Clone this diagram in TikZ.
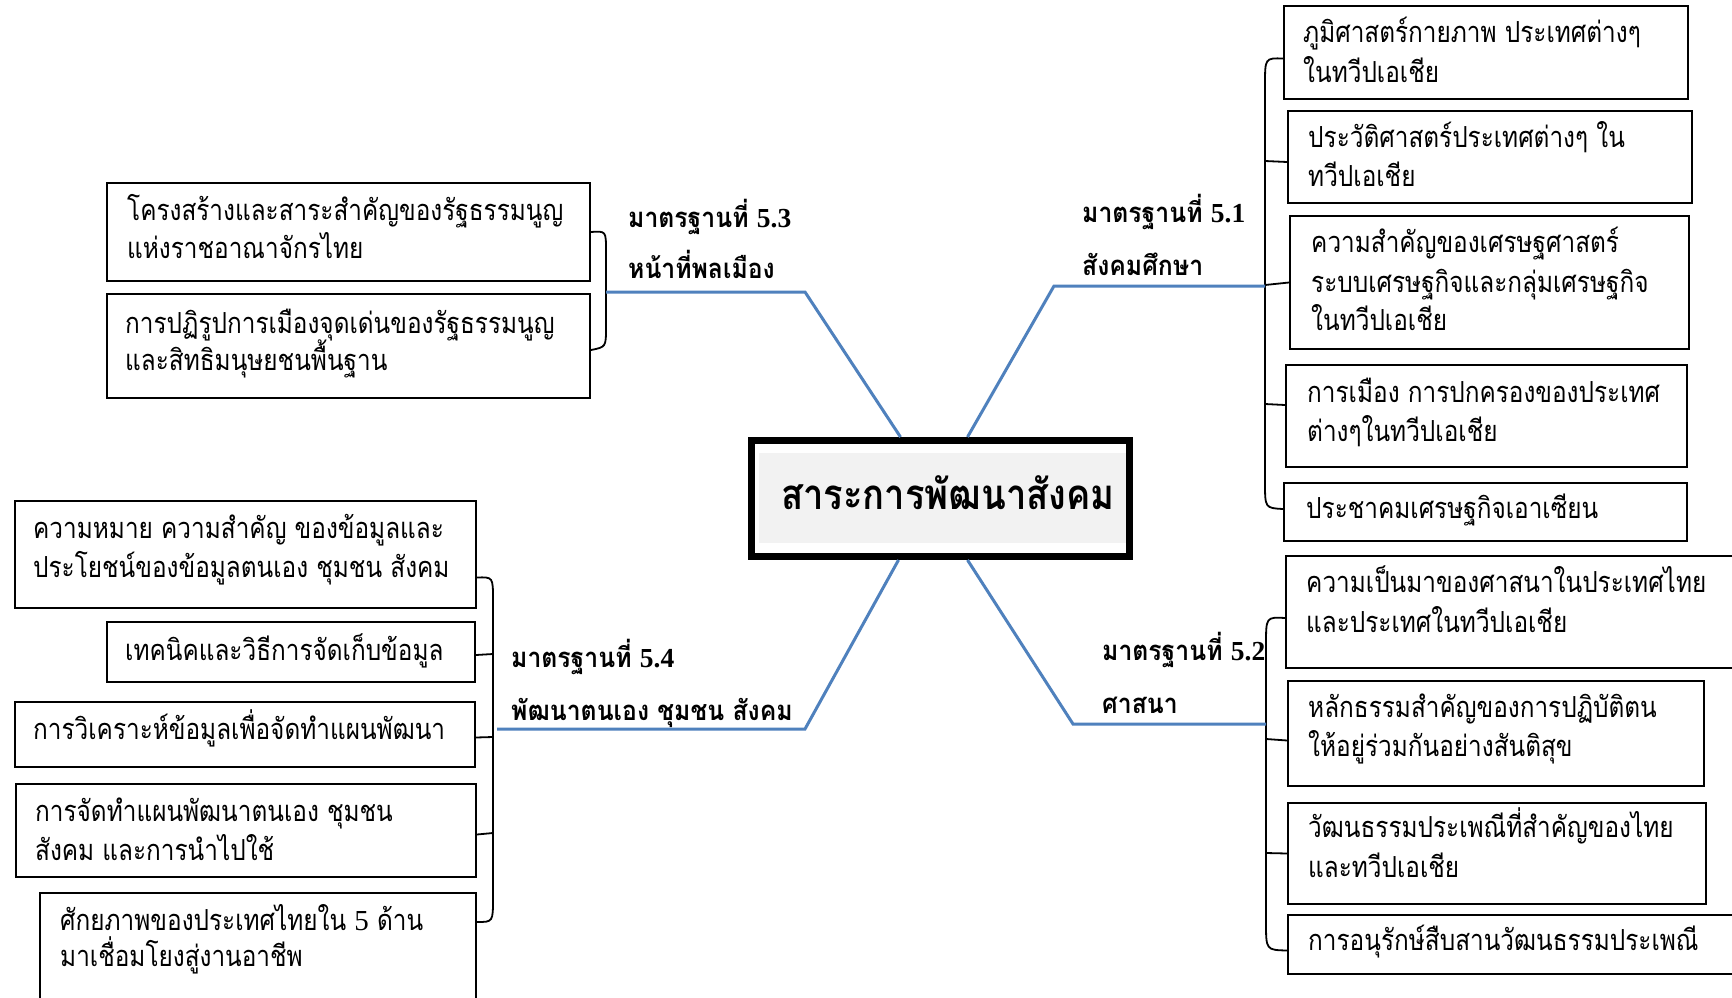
\documentclass[tikz,border=0pt]{standalone}
\usepackage{fontspec}
\newfontfamily\thaiR[Script=Thai,FakeStretch=0.84]{Loma}
\newfontfamily\thaiB[Script=Thai,FakeStretch=0.9]{Loma}
\newfontfamily\thaiC[Script=Thai,FakeStretch=0.865]{Loma}
\newfontfamily\timesf{Liberation Serif}
\usetikzlibrary{calc}
\definecolor{bluel}{RGB}{79,129,189}
\definecolor{grayf}{RGB}{242,242,242}
\tikzset{
  boxst/.style={draw=black, line width=2pt, anchor=north west, inner sep=0pt, fill=white},
  txt/.style={font=\thaiR\fontsize{29}{34}\selectfont, anchor=base west, inner sep=0pt},
  lab/.style={font=\thaiB\bfseries\fontsize{27.5}{32}\selectfont, anchor=base west, inner sep=0pt},
  br/.style={draw=black, line width=1.8pt},
  blu/.style={draw=bluel, line width=3pt, line join=miter},
}
\newcommand\mybox[5]{\node[boxst, minimum width={#4pt-#2pt}, minimum height={#5pt-#3pt}] (#1) at (#2,#3) {};}
\newcommand\tl[4]{\node[txt] (#1) at (#2,#3) {#4};}
\newcommand\lb[4]{\node[lab] (#1) at (#2,#3) {#4};}
\begin{document}
\begin{tikzpicture}[x=1pt,y=-1pt]
\useasboundingbox (0,0) rectangle (1732,998);
\clip (0,0) rectangle (1732,998);
\fill[white] (0,0) rectangle (1732,998);

% ---------- center node
\node[draw=black, line width=7pt, minimum width=378pt, minimum height=116pt, inner sep=0pt] (c) at (940.5,498.5) {};
\fill[grayf] (759,453) rectangle (1126,543);
\node[font=\thaiC\bfseries\fontsize{42}{48}\selectfont, anchor=base west, inner sep=0pt] (ct) at (781,509) {สาระการพัฒนาสังคม};

% ---------- boxes
\mybox{A1}{106}{182}{589}{280}
\mybox{A2}{106}{293}{589}{397}
\mybox{B1}{1283}{5}{1687}{98}
\mybox{B2}{1287}{110}{1691}{202}
\mybox{B3}{1289}{215}{1688}{348}
\mybox{B4}{1285}{364}{1686}{466}
\mybox{B5}{1283}{482}{1686}{540}
\mybox{C1}{1285}{555}{1745}{667}
\mybox{C2}{1287}{680}{1703}{785}
\mybox{C3}{1287}{802}{1705}{903}
\mybox{C4}{1287}{914}{1745}{973}
\mybox{D1}{14}{500}{475}{607}
\mybox{D2}{106}{621}{474}{681}
\mybox{D3}{14}{701}{474}{766}
\mybox{D4}{15}{783}{475}{876}
\mybox{D5}{39}{892}{475}{1010}

% ---------- box texts
\tl{a11}{127}{220}{โครงสร้างและสาระสำคัญของรัฐธรรมนูญ}
\tl{a12}{127}{258}{แห่งราชอาณาจักรไทย}
\tl{a21}{125}{333}{การปฏิรูปการเมืองจุดเด่นของรัฐธรรมนูญ}
\tl{a22}{125}{370}{และสิทธิมนุษยชนพื้นฐาน}
\tl{b11}{1303}{43}{ภูมิศาสตร์กายภาพ ประเทศต่างๆ}
\tl{b12}{1303}{82}{ในทวีปเอเชีย}
\tl{b21}{1308}{147}{ประวัติศาสตร์ประเทศต่างๆ ใน}
\tl{b22}{1308}{186}{ทวีปเอเชีย}
\tl{b31}{1311}{252}{ความสำคัญของเศรษฐศาสตร์}
\tl{b32}{1311}{292}{ระบบเศรษฐกิจและกลุ่มเศรษฐกิจ}
\tl{b33}{1311}{330}{ในทวีปเอเชีย}
\tl{b41}{1307}{402}{การเมือง การปกครองของประเทศ}
\tl{b42}{1307}{441}{ต่างๆในทวีปเอเชีย}
\tl{b51}{1306}{518}{ประชาคมเศรษฐกิจเอาเซียน}
\tl{c11}{1306}{592}{ความเป็นมาของศาสนาในประเทศไทย}
\tl{c12}{1306}{632}{และประเทศในทวีปเอเชีย}
\tl{c21}{1308}{717}{หลักธรรมสำคัญของการปฏิบัติตน}
\tl{c22}{1308}{756}{ให้อยู่ร่วมกันอย่างสันติสุข}
\tl{c31}{1308}{837}{วัฒนธรรมประเพณีที่สำคัญของไทย}
\tl{c32}{1308}{877}{และทวีปเอเชีย}
\tl{c41}{1308}{950}{การอนุรักษ์สืบสานวัฒนธรรมประเพณี}
\tl{d11}{33}{538}{ความหมาย ความสำคัญ ของข้อมูลและ}
\tl{d12}{33}{577}{ประโยชน์ของข้อมูลตนเอง ชุมชน สังคม}
\tl{d21}{125}{660}{เทคนิคและวิธีการจัดเก็บข้อมูล}
\tl{d31}{33}{739}{การวิเคราะห์ข้อมูลเพื่อจัดทำแผนพัฒนา}
\tl{d41}{35}{821}{การจัดทำแผนพัฒนาตนเอง ชุมชน}
\tl{d42}{35}{860}{สังคม และการนำไปใช้}
\tl{d51}{60}{930}{ศักยภาพของประเทศไทยใน {\timesf 5} ด้าน}
\tl{d52}{60}{966}{มาเชื่อมโยงสู่งานอาชีพ}

% ---------- labels
\lb{l31}{628}{227}{มาตรฐานที่ {\timesf 5.3}}
\lb{l32}{628}{278}{หน้าที่พลเมือง}
\lb{l11}{1082}{222}{มาตรฐานที่ {\timesf 5.1}}
\lb{l12}{1082}{275}{สังคมศึกษา}
\lb{l21}{1102}{660}{มาตรฐานที่ {\timesf 5.2}}
\lb{l22}{1102}{713}{ศาสนา}
\lb{l41}{511}{667}{มาตรฐานที่ {\timesf 5.4}}
\lb{l42}{511}{720}{พัฒนาตนเอง ชุมชน สังคม}

% ---------- brackets
% 5.3
\draw[br] (A1.east) .. controls (606,231) .. (606,251) -- (606,327) .. controls (606,347) .. ([yshift=-4pt]A2.east);
% 5.1
\draw[br] ([yshift=-6pt]B1.west) .. controls (1265,58) .. (1265,85) -- (1265,482) .. controls (1265,508) .. ([yshift=3pt]B5.west);
\draw[br] ([yshift=-5pt]B2.west) -- (1265,161);
\draw[br] (B3.west) -- (1265,285);
\draw[br] ([yshift=11pt]B4.west) -- (1265,404);
% 5.2
\draw[br] ([yshift=-6pt]C1.west) .. controls (1266,617) .. (1266,645) -- (1266,922) .. controls (1266,950) .. ([yshift=-6pt]C4.west);
\draw[br] ([yshift=-7pt]C2.west) -- (1266,739);
\draw[br] (C3.west) -- (1266,853);
% 5.4
\draw[br] ([yshift=-23pt]D1.east) .. controls (493,577) .. (493,600) -- (493,898) .. controls (493,922) .. ([yshift=-30pt]D5.north east);
\draw[br] ([yshift=-3pt]D2.east) -- (493,654);
\draw[br] ([yshift=-3pt]D3.east) -- (493,737);
\draw[br] ([yshift=-4pt]D4.east) -- (493,833);

% ---------- blue branches
\coordinate (k53) at (606,292);  \coordinate (e53) at (805,292);
\coordinate (k51) at (1265,286); \coordinate (e51) at (1054,286);
\coordinate (k52) at (1266,724); \coordinate (e52) at (1073,724);
\coordinate (k54) at (497,729);  \coordinate (e54) at (805,729);
\draw[blu] (k53) -- (e53) -- ([xshift=-40pt]c.north);
\draw[blu] (k51) -- (e51) -- ([xshift=27pt]c.north);
\draw[blu] (k52) -- (e52) -- ([xshift=27pt]c.south);
\draw[blu] (k54) -- (e54) -- ([xshift=-42pt]c.south);
\end{tikzpicture}
\end{document}
